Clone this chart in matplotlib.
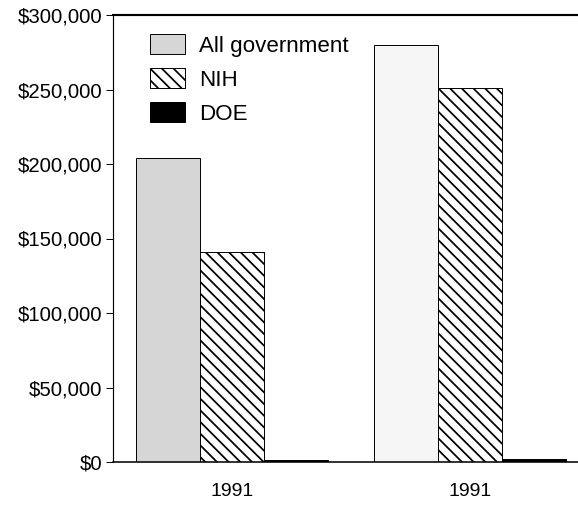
import matplotlib
matplotlib.use("Agg")
import matplotlib.pyplot as plt
import numpy as np

groups = ["1991", "1991"]
all_government = [204000, 280000]
nih = [141000, 251000]
doe = [1500, 2000]
series_names = ["All government", "NIH", "DOE"]
y_ticks = [0, 50000, 100000, 150000, 200000, 250000, 300000]
y_tick_labels = ["$0", "$50,000", "$100,000", "$150,000", "$200,000", "$250,000", "$300,000"]

DPI = 70
plt.rcParams['font.family'] = ['Liberation Sans', 'DejaVu Sans']
plt.rcParams['hatch.linewidth'] = 1.8

fig = plt.figure(figsize=(578 / DPI, 516 / DPI), dpi=DPI)
ax = fig.add_axes([113 / 578, (516 - 462) / 516, 465 / 578, 447 / 516])

x = np.arange(len(groups))
w = 0.27
ax.bar(x - w, all_government, w, align='center', color=['#d6d6d6', '#f6f6f6'],
       edgecolor='black', linewidth=1.0, label=series_names[0])
ax.bar(x, nih, w, align='center', color='white', edgecolor='black',
       linewidth=1.0, hatch='\\\\', label=series_names[1])
ax.bar(x + w, doe, w, align='center', color='black', edgecolor='black',
       linewidth=1.0, label=series_names[2])

ax.set_ylim(0, 300000)
ax.set_xlim(-0.5, 1.454)
ax.set_yticks(y_ticks)
ax.set_yticklabels(y_tick_labels, fontsize=21)
ax.set_xticks(x)
ax.set_xticklabels(groups, fontsize=20)
ax.tick_params(axis='x', length=0, pad=22)
ax.tick_params(axis='y', length=7, width=1.0, pad=4, direction='out')

ax.spines['right'].set_visible(False)
ax.spines['top'].set_linewidth(2.2)
ax.spines['left'].set_linewidth(1.2)
ax.spines['bottom'].set_linewidth(1.6)

leg = ax.legend(loc='upper left', bbox_to_anchor=(0.046, 0.992), frameon=False,
                fontsize=23, handlelength=1.56, handleheight=1.0,
                handletextpad=0.65, labelspacing=0.5, borderpad=0.2)

fig.savefig("out.png", dpi=DPI)
